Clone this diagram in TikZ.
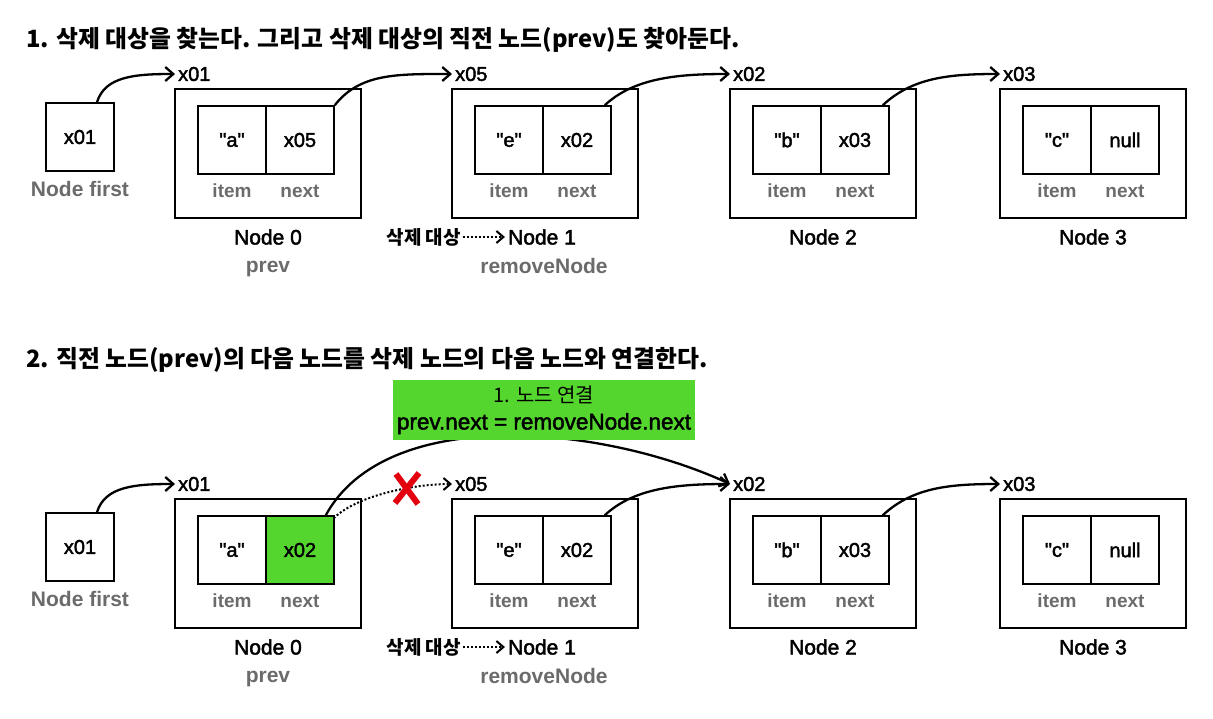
\documentclass[tikz,border=0pt]{standalone}
\usepackage{fontspec}
\setmainfont{Liberation Sans}[Ligatures=TeXOff]
\newfontfamily\medf{Liberation Sans}[Ligatures=TeXOff,FakeBold=2]
\newfontfamily\kr{Noto Sans CJK KR}
\usetikzlibrary{arrows.meta}
\definecolor{labgray}{HTML}{6B6B6B}
\definecolor{grn}{HTML}{55D62F}
\definecolor{xred}{HTML}{E3000F}
\tikzset{
  fbox/.style={draw=black, line width=1.6pt, minimum width=68pt, minimum height=68pt, inner sep=0pt, font=\medf\fontsize{20}{24}\selectfont},
  outer/.style={draw=black, line width=1.6pt, minimum width=186pt, minimum height=129pt, inner sep=0pt},
  cell/.style={draw=black, line width=1.6pt, minimum width=68pt, minimum height=68pt, inner sep=0pt, font=\medf\fontsize{20}{24}\selectfont},
  lbl/.style={text=labgray, inner sep=1pt, font=\bfseries\fontsize{19}{22}\selectfont},
  blbl/.style={text=labgray, inner sep=1pt, font=\bfseries\fontsize{21}{24}\selectfont},
  nname/.style={inner sep=3pt, font=\medf\fontsize{21}{24}\selectfont},
  addr/.style={anchor=west, inner sep=3pt, font=\medf\fontsize{20}{24}\selectfont},
  kor/.style={inner sep=2pt, font=\kr\bfseries\fontsize{19}{22}\selectfont},
  ttl/.style={anchor=west, inner sep=0pt, font=\kr\bfseries\fontsize{23.8}{28}\selectfont},
  ptr/.style={-{Straight Barb[length=8pt,width=14pt]}, line width=2.3pt},
  dotptr/.style={-{Straight Barb[length=7pt,width=12pt]}, line width=2pt, dash pattern=on 2pt off 2pt},
}
\newcommand\listrow[4]{%
 \begin{scope}[yshift=-#2pt]
  % first pointer
  \node[fbox] (#1first) at (80,137) {x01};
  \node[blbl] (#1firstl) at (80,189) {Node first};
  % Node 0
  \node[outer] (#1o0) at (268,153.5) {};
  \node[cell] (#1i0) at (232,140) {"a"};
  \node[cell,#4] (#1n0) at (300,140) {#3};
  \node[lbl] (#1il0) at (232,191) {item};
  \node[lbl] (#1nl0) at (300,191) {next};
  \node[nname] (#1nm0) at (268,237) {Node 0};
  \node[blbl] (#1pv) at (268,269) {prev};
  \node[addr] (#1a0) at (175,74) {x01};
  % Node 1
  \node[outer] (#1o1) at (545,153.5) {};
  \node[cell] (#1i1) at (509,140) {"e"};
  \node[cell] (#1n1) at (577,140) {x02};
  \node[lbl] (#1il1) at (509,191) {item};
  \node[lbl] (#1nl1) at (577,191) {next};
  \node[nname] (#1nm1) at (542,237) {Node 1};
  \node[blbl] (#1rm) at (544,266) {removeNode};
  \node[kor,anchor=east] (#1del) at (463,237) {삭제 대상};
  \node[addr] (#1a1) at (452,74) {x05};
  % Node 2
  \node[outer] (#1o2) at (823,153.5) {};
  \node[cell] (#1i2) at (787,140) {"b"};
  \node[cell] (#1n2) at (855,140) {x03};
  \node[lbl] (#1il2) at (787,191) {item};
  \node[lbl] (#1nl2) at (855,191) {next};
  \node[nname] (#1nm2) at (823,237) {Node 2};
  \node[addr] (#1a2) at (730,74) {x02};
  % Node 3
  \node[outer] (#1o3) at (1093,153.5) {};
  \node[cell] (#1i3) at (1057,140) {"c"};
  \node[cell] (#1n3) at (1125,140) {null};
  \node[lbl] (#1il3) at (1057,191) {item};
  \node[lbl] (#1nl3) at (1125,191) {next};
  \node[nname] (#1nm3) at (1093,237) {Node 3};
  \node[addr] (#1a3) at (1000,74) {x03};
  % connectors
  \draw[ptr] ([xshift=17pt]#1first.north) .. controls +(8,-26) and +(-40,0) .. (#1a0.west);
  \draw[dotptr] (#1del.east) -- (#1nm1.west);
  \draw[ptr] ([xshift=-7pt]#1n1.north east) .. controls +(30,-28) and +(-50,0) .. (#1a2.west);
  \draw[ptr] ([xshift=-7pt]#1n2.north east) .. controls +(30,-28) and +(-50,0) .. (#1a3.west);
 \end{scope}}

\begin{document}
\begin{tikzpicture}[x=1pt,y=-1pt]
\useasboundingbox (0,0) rectangle (1213,718);
\fill[white] (0,0) rectangle (1213,718);

\node[ttl] (t1) at (26,40) {1. 삭제 대상을 찾는다. 그리고 삭제 대상의 직전 노드(prev)도 찾아둔다.};
\listrow{p}{0}{x05}{}
\draw[ptr] (pn0.north east) .. controls +(25,-32) and +(-55,0) .. (pa1.west);

\node[ttl] (t2) at (26,360) {2. 직전 노드(prev)의 다음 노드를 삭제 노드의 다음 노드와 연결한다.};
\listrow{q}{410}{x02}{fill=grn}
\draw[dotptr] ([xshift=-1pt,yshift=-3pt]qn0.north east) .. controls +(22,-22) and +(-40,0) .. (qa1.west);
\draw[xred, line width=6pt] (396,474) -- (418,504);
\draw[xred, line width=6pt] (419,473) -- (395,503);
\draw[ptr] ([xshift=-9pt]qn0.north east) .. controls +(60,-110) and +(-130,-60) .. (qa2.west);
\node[fill=grn, minimum width=302pt, minimum height=60pt, inner sep=0pt, align=center, font=\medf\fontsize{22.5}{27}\selectfont] (lnk) at (544,410) {{\kr\fontsize{20}{27}\selectfont 1. 노드 연결}\\prev.next = removeNode.next};
\end{tikzpicture}
\end{document}
